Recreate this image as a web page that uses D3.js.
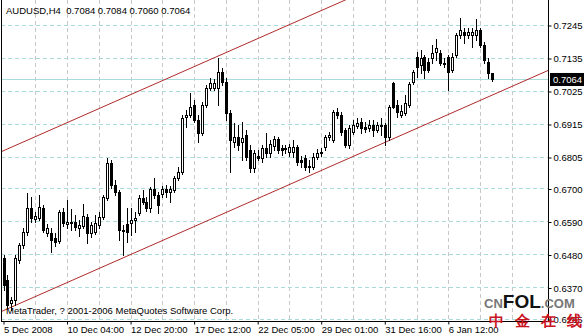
<!DOCTYPE html>
<html>
<head>
<meta charset="utf-8">
<script src="https://cdn.jsdelivr.net/npm/d3@7/dist/d3.min.js"></script>
<style>
  html, body { margin: 0; padding: 0; background: #fff; }
  svg { display: block; }
  text { font-family: "Liberation Sans", Arial, sans-serif; }
</style>
</head>
<body>
<div class="container"></div>
<script>
// AUDUSD H4 candles
const opens = [
  0.6468, 0.6395, 0.6318, 0.6328, 0.6462, 0.6512, 0.6555, 0.6635, 0.6598, 0.6602,
  0.6635, 0.6552, 0.6552, 0.6535, 0.6525, 0.6622, 0.6582, 0.6588, 0.6588, 0.6568,
  0.6575, 0.6605, 0.6552, 0.6555, 0.6578, 0.6605, 0.6668, 0.6785, 0.6712, 0.6688,
  0.6562, 0.6582, 0.6585, 0.6595, 0.6618, 0.6668, 0.6655, 0.6635, 0.6698, 0.6678,
  0.6682, 0.6698, 0.6688, 0.6695, 0.6735, 0.6755, 0.6938, 0.6945, 0.6978, 0.6928,
  0.6885, 0.6978, 0.7035, 0.7035, 0.7035, 0.7088, 0.7055, 0.6952, 0.6855, 0.6872,
  0.6855, 0.6878, 0.6828, 0.6768, 0.6808, 0.6802, 0.6835, 0.6818, 0.6842, 0.6865,
  0.6835, 0.6832, 0.6822, 0.6822, 0.6838, 0.6795, 0.6802, 0.6775, 0.6772, 0.6805,
  0.6818, 0.6838, 0.6872, 0.6862, 0.6955, 0.6945, 0.6895, 0.6845, 0.6888, 0.6908,
  0.6922, 0.6905, 0.6902, 0.6912, 0.6895, 0.6912, 0.6912, 0.6872, 0.7052, 0.6978,
  0.6945, 0.6952, 0.6978, 0.7055, 0.7138, 0.7112, 0.7138, 0.7122, 0.7135, 0.7155,
  0.7152, 0.7118, 0.7138, 0.7095, 0.7145, 0.7212, 0.7222, 0.7212, 0.7212, 0.7212,
  0.7228, 0.7178, 0.7122, 0.7084
];
const highs = [
  0.6478, 0.6412, 0.6338, 0.6478, 0.6518, 0.6568, 0.6685, 0.6672, 0.6622, 0.6678,
  0.6645, 0.6582, 0.6568, 0.6552, 0.6628, 0.6635, 0.6662, 0.6632, 0.6612, 0.6595,
  0.6648, 0.6615, 0.6588, 0.6612, 0.6622, 0.6678, 0.6802, 0.6795, 0.6728, 0.6695,
  0.6578, 0.6635, 0.6635, 0.6622, 0.6678, 0.6695, 0.6672, 0.6705, 0.6735, 0.6688,
  0.6708, 0.6712, 0.6708, 0.6742, 0.6772, 0.6945, 0.6962, 0.7018, 0.6995, 0.6945,
  0.6988, 0.7045, 0.7068, 0.7065, 0.7135, 0.7102, 0.7068, 0.6962, 0.6918, 0.6912,
  0.6922, 0.6895, 0.6845, 0.6828, 0.6828, 0.6845, 0.6885, 0.6862, 0.6875, 0.6872,
  0.6845, 0.6845, 0.6848, 0.6862, 0.6845, 0.6808, 0.6812, 0.6795, 0.6818, 0.6832,
  0.6835, 0.6878, 0.6888, 0.6962, 0.6968, 0.6955, 0.6902, 0.6912, 0.6928, 0.6935,
  0.6935, 0.6922, 0.6928, 0.6928, 0.6922, 0.6935, 0.6918, 0.6978, 0.7055, 0.6995,
  0.6978, 0.7012, 0.7055, 0.7095, 0.7155, 0.7162, 0.7145, 0.7135, 0.7178, 0.7198,
  0.7162, 0.7135, 0.7145, 0.7152, 0.7218, 0.7268, 0.7235, 0.7235, 0.7235, 0.7265,
  0.7235, 0.7188, 0.7135, 0.7084
];
const lows = [
  0.6362, 0.6302, 0.6295, 0.6312, 0.6452, 0.6502, 0.6545, 0.6588, 0.6588, 0.6595,
  0.6555, 0.6542, 0.6488, 0.6508, 0.6518, 0.6575, 0.6568, 0.6562, 0.6562, 0.6542,
  0.6568, 0.6518, 0.6538, 0.6548, 0.6568, 0.6598, 0.6662, 0.6702, 0.6678, 0.6528,
  0.6478, 0.6522, 0.6545, 0.6555, 0.6612, 0.6648, 0.6625, 0.6622, 0.6668, 0.6618,
  0.6672, 0.6672, 0.6655, 0.6688, 0.6728, 0.6748, 0.6905, 0.6938, 0.6922, 0.6855,
  0.6878, 0.6972, 0.7028, 0.7028, 0.6978, 0.7045, 0.6928, 0.6755, 0.6838, 0.6828,
  0.6795, 0.6795, 0.6755, 0.6755, 0.6795, 0.6788, 0.6805, 0.6805, 0.6828, 0.6818,
  0.6812, 0.6818, 0.6808, 0.6805, 0.6778, 0.6772, 0.6762, 0.6755, 0.6765, 0.6798,
  0.6808, 0.6828, 0.6862, 0.6855, 0.6935, 0.6878, 0.6838, 0.6835, 0.6882, 0.6902,
  0.6885, 0.6888, 0.6892, 0.6875, 0.6888, 0.6878, 0.6845, 0.6862, 0.6968, 0.6938,
  0.6938, 0.6945, 0.6972, 0.7048, 0.7072, 0.7085, 0.7068, 0.7088, 0.7118, 0.7128,
  0.7112, 0.7105, 0.7028, 0.7088, 0.7138, 0.7202, 0.7185, 0.7202, 0.7172, 0.7195,
  0.7172, 0.7118, 0.7068, 0.7060
];
const closes = [
  0.6378, 0.6312, 0.6328, 0.6468, 0.6512, 0.6555, 0.6635, 0.6602, 0.6608, 0.6638,
  0.6562, 0.6568, 0.6528, 0.6522, 0.6622, 0.6585, 0.6588, 0.6585, 0.6572, 0.6578,
  0.6608, 0.6552, 0.6578, 0.6585, 0.6605, 0.6672, 0.6785, 0.6712, 0.6688, 0.6562,
  0.6558, 0.6555, 0.6595, 0.6602, 0.6668, 0.6655, 0.6635, 0.6698, 0.6678, 0.6645,
  0.6698, 0.6688, 0.6698, 0.6735, 0.6755, 0.6935, 0.6945, 0.6972, 0.6928, 0.6885,
  0.6978, 0.7035, 0.7052, 0.7052, 0.7088, 0.7055, 0.6952, 0.6862, 0.6872, 0.6845,
  0.6868, 0.6805, 0.6768, 0.6818, 0.6802, 0.6835, 0.6818, 0.6848, 0.6865, 0.6828,
  0.6828, 0.6835, 0.6838, 0.6838, 0.6788, 0.6788, 0.6772, 0.6772, 0.6805, 0.6818,
  0.6822, 0.6872, 0.6878, 0.6955, 0.6945, 0.6888, 0.6845, 0.6902, 0.6912, 0.6918,
  0.6902, 0.6898, 0.6912, 0.6895, 0.6912, 0.6908, 0.6872, 0.6972, 0.6972, 0.6955,
  0.6958, 0.6985, 0.7048, 0.7088, 0.7105, 0.7135, 0.7095, 0.7095, 0.7152, 0.7168,
  0.7118, 0.7115, 0.7088, 0.7138, 0.7212, 0.7228, 0.7212, 0.7222, 0.7222, 0.7228,
  0.7178, 0.7128, 0.7084, 0.7064
];

const xTickBars = [0, 16, 32, 48, 64, 80, 96, 112];
const xTickLabels = ["5 Dec 2008", "10 Dec 04:00", "12 Dec 20:00", "17 Dec 12:00",
  "22 Dec 05:00", "29 Dec 01:00", "31 Dec 16:00", "6 Jan 12:00"];
const yTicks = [0.7245, 0.7135, 0.7025, 0.6915, 0.6805, 0.6700, 0.6590, 0.6480, 0.6370, 0.6265];
const lastPrice = 0.7064;
const title = "AUDUSD,H4  0.7084 0.7084 0.7060 0.7064";

// channel lines: [bar, price] anchors
const upperLine = [[0, 0.6826], [123, 0.7544]];
const lowerLine = [[0, 0.6293], [123, 0.7011]];

const chart = {
  width: 584,
  height: 336,
  left: 1,
  right: 548,
  top: 0,
  bottom: 321
};

function drawChart() {
  const { width, height, left, right, top, bottom } = chart;
  const svg = d3
    .select(".container")
    .append("svg")
    .attr("width", width)
    .attr("height", height);

  const xScale = d3.scaleLinear().domain([0, 123]).range([3.5, 492]);
  const yScale = d3.scaleLinear().domain([0.6915, 0.7245]).range([124, 25]);
  const px = v => Math.round(v) + 0.5;

  svg.append("defs")
    .append("clipPath")
    .attr("id", "plot-clip")
    .append("rect")
    .attr("x", left)
    .attr("y", top)
    .attr("width", right - left)
    .attr("height", bottom - top);

  // grid
  const grid = svg.append("g").attr("id", "grid");
  const vGrid = d3.range(8, 136, 8);
  grid.selectAll("line.v")
    .data(vGrid)
    .enter()
    .append("line")
    .attr("class", "v")
    .attr("x1", d => px(xScale(d)))
    .attr("x2", d => px(xScale(d)))
    .attr("y1", top)
    .attr("y2", bottom)
    .attr("stroke", "#c8c8c8")
    .attr("stroke-dasharray", "4,3");
  grid.selectAll("line.h")
    .data(yTicks)
    .enter()
    .append("line")
    .attr("class", "h")
    .attr("x1", left)
    .attr("x2", right)
    .attr("y1", d => px(yScale(d)))
    .attr("y2", d => px(yScale(d)))
    .attr("stroke", "#a8dcdc")
    .attr("stroke-dasharray", "4,3");
  grid.append("line")
    .attr("x1", left)
    .attr("x2", right)
    .attr("y1", px(yScale(lastPrice)))
    .attr("y2", px(yScale(lastPrice)))
    .attr("stroke", "#a8dcdc");

  // channel lines
  const lineGen = d3.line().x(d => xScale(d[0])).y(d => yScale(d[1]));
  const extend = pts => {
    const [[b0, p0], [b1, p1]] = pts;
    const slope = (p1 - p0) / (b1 - b0);
    const bA = xScale.invert(left - 5), bB = xScale.invert(right + 5);
    return [[bA, p0 + slope * (bA - b0)], [bB, p0 + slope * (bB - b0)]];
  };
  svg.append("g")
    .attr("clip-path", "url(#plot-clip)")
    .selectAll("path")
    .data([upperLine, lowerLine])
    .enter()
    .append("path")
    .attr("d", d => lineGen(extend(d)))
    .attr("fill", "none")
    .attr("stroke", "#b02a2a")
    .attr("stroke-width", 1);

  // candles
  const candles = svg.append("g")
    .attr("id", "candles")
    .attr("clip-path", "url(#plot-clip)")
    .selectAll("g")
    .data(d3.range(opens.length))
    .enter()
    .append("g");
  candles.append("line")
    .attr("x1", i => px(xScale(i)))
    .attr("x2", i => px(xScale(i)))
    .attr("y1", i => Math.round(yScale(highs[i])))
    .attr("y2", i => Math.round(yScale(lows[i])) + 1)
    .attr("stroke", "#000");
  candles.append("rect")
    .attr("x", i => px(xScale(i)) - 1)
    .attr("y", i => px(yScale(Math.max(opens[i], closes[i]))))
    .attr("width", 2)
    .attr("height", i => Math.max(0, Math.round(yScale(Math.min(opens[i], closes[i]))) - Math.round(yScale(Math.max(opens[i], closes[i])))))
    .attr("fill", i => closes[i] >= opens[i] ? "#fff" : "#000")
    .attr("stroke", "#000");

  // frame
  svg.append("line")
    .attr("x1", left + 0.5).attr("x2", left + 0.5)
    .attr("y1", top).attr("y2", bottom)
    .attr("stroke", "#000");
  svg.append("line")
    .attr("x1", right + 0.5).attr("x2", right + 0.5)
    .attr("y1", top).attr("y2", bottom + 0.5)
    .attr("stroke", "#000");
  svg.append("line")
    .attr("x1", left).attr("x2", right + 1)
    .attr("y1", bottom + 0.5).attr("y2", bottom + 0.5)
    .attr("stroke", "#000");

  // price axis
  const yAxis = d3.axisRight(yScale)
    .tickValues(yTicks)
    .tickFormat(d3.format(".4f"))
    .tickSize(3)
    .tickPadding(2);
  const yg = svg.append("g")
    .attr("id", "y-axis")
    .attr("transform", `translate(${right + 0.5}, 0.5)`)
    .call(yAxis);
  yg.select(".domain").remove();
  yg.selectAll("text")
    .attr("font-size", "9.5px")
    .attr("font-family", "Liberation Sans, Arial, sans-serif")
    .attr("fill", "#000");

  const lp = svg.append("g").attr("transform", `translate(${right + 2}, ${Math.round(yScale(lastPrice))})`);
  lp.append("rect")
    .attr("x", 0).attr("y", -6)
    .attr("width", 34).attr("height", 13)
    .attr("fill", "#000");
  lp.append("text")
    .attr("x", 3).attr("y", 4)
    .attr("font-size", "9.5px")
    .attr("fill", "#fff")
    .text(d3.format(".4f")(lastPrice));

  // time axis
  const xAxis = d3.axisBottom(xScale)
    .tickValues(xTickBars)
    .tickFormat((d, i) => xTickLabels[i])
    .tickSize(3)
    .tickPadding(2);
  const xg = svg.append("g")
    .attr("id", "x-axis")
    .attr("transform", `translate(0, ${bottom + 0.5})`)
    .call(xAxis);
  xg.select(".domain").remove();
  xg.selectAll("text")
    .attr("text-anchor", "start")
    .attr("font-size", "9.5px")
    .attr("font-family", "Liberation Sans, Arial, sans-serif")
    .attr("fill", "#000");

  // captions
  svg.append("text")
    .attr("x", 6).attr("y", 14)
    .attr("font-size", "9.5px")
    .attr("xml:space", "preserve")
    .text(title);
  svg.append("text")
    .attr("x", 6).attr("y", 314)
    .attr("font-size", "9.5px")
    .text("MetaTrader, ? 2001-2006 MetaQuotes Software Corp.");

  // watermark
  const logo = svg.append("g").attr("id", "logo");
  const brand = logo.append("text")
    .attr("x", 484).attr("y", 308)
    .attr("font-family", "Liberation Sans, Arial, sans-serif")
    .attr("font-weight", "bold");
  brand.append("tspan").attr("font-size", "13px").attr("fill", "#777").text("CN");
  brand.append("tspan").attr("font-size", "19px").attr("fill", "#111").text("FOL");
  brand.append("tspan").attr("font-size", "13px").attr("fill", "#777").text(".COM");
  logo.selectAll("text.cn")
    .data(["中", "金", "在", "线"])
    .enter()
    .append("text")
    .attr("class", "cn")
    .attr("x", (d, i) => 489 + i * 26)
    .attr("y", 326)
    .attr("font-family", "Noto Sans CJK SC, sans-serif")
    .attr("font-weight", "bold")
    .attr("font-size", "15px")
    .attr("fill", "#c8141e")
    .text(d => d);
}

document.addEventListener("DOMContentLoaded", drawChart);
</script>
</body>
</html>
